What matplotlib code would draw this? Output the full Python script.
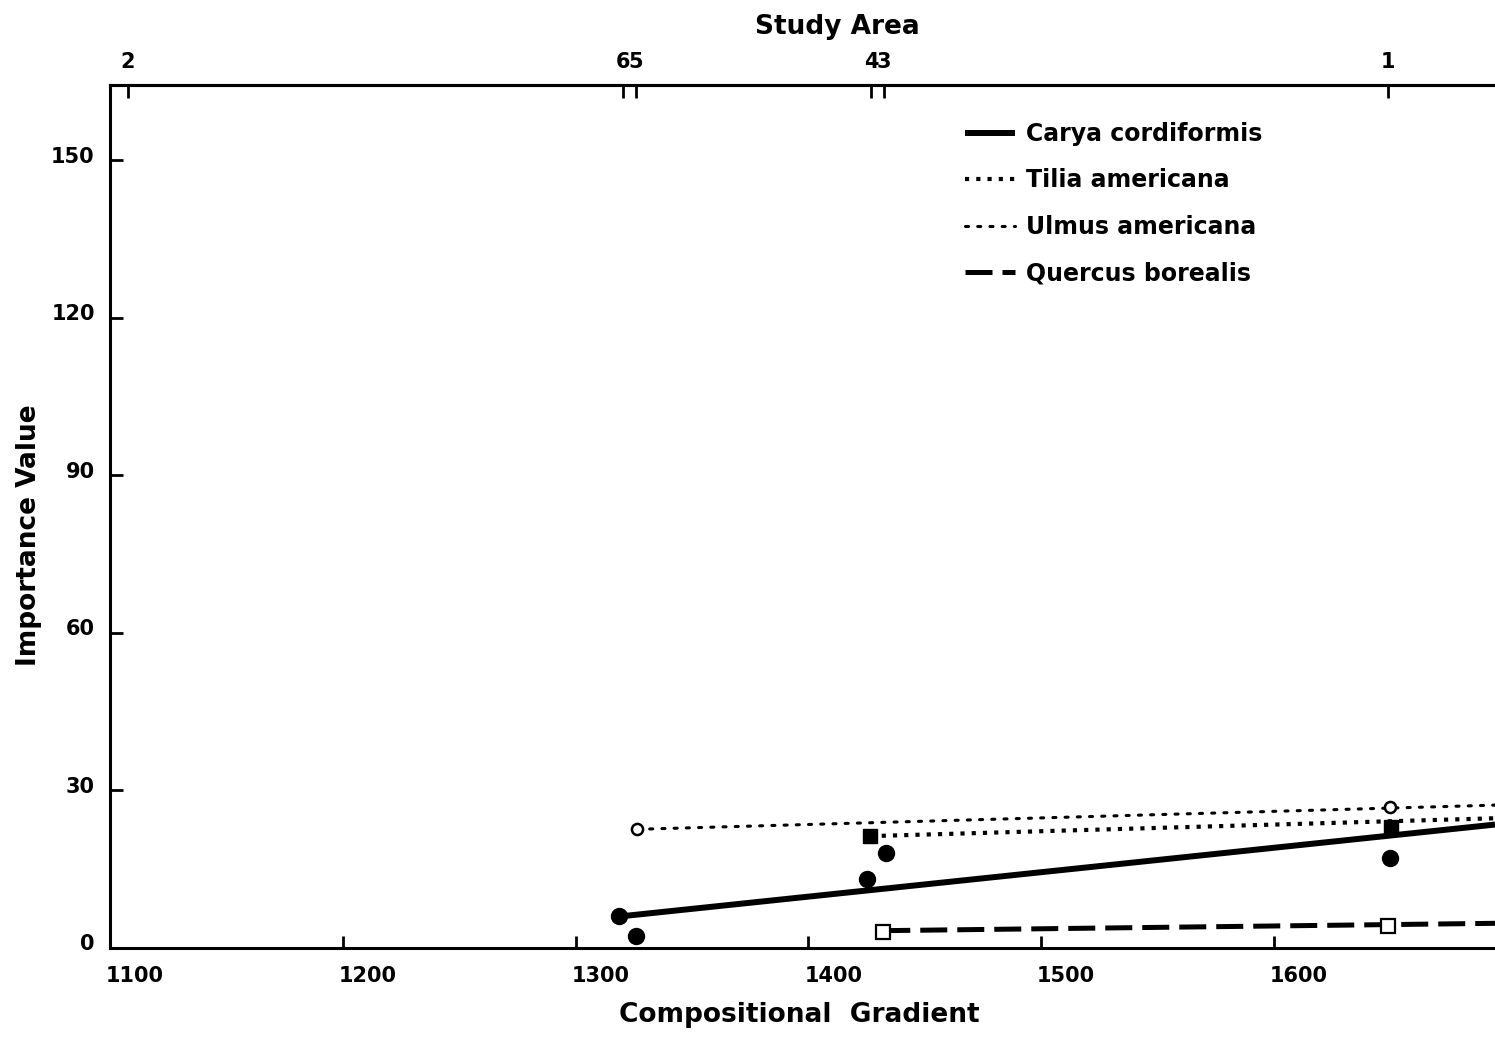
import numpy as np
import matplotlib
matplotlib.use("Agg")
import matplotlib.pyplot as plt
import matplotlib.transforms as mtrans

# study areas along the gradient (top axis)
area_x = [1107.7, 1320.5, 1326.0, 1427.0, 1432.5, 1649.0]
area_lab = ["2", "6", "5", "4", "3", "1"]

# observed importance values
carya_x = [1318.8, 1326.0, 1425.4, 1433.2, 1649.9]
carya_y = [6.0, 2.3, 13.1, 18.0, 17.1]
tilia_x = [1426.7, 1650.3]
tilia_y = [21.3, 23.1]
ulmus_x = [1326.6, 1649.7]
ulmus_y = [22.6, 26.9]
quercus_x = [1432.2, 1649.0]
quercus_y = [3.1, 4.1]

# fitted lines (start, right edge of figure)
carya_fit_x = [1318.8, 1695.0]
carya_fit_y = [6.0, 23.5]
tilia_fit_x = [1426.7, 1695.0]
tilia_fit_y = [21.3, 24.7]
ulmus_fit_x = [1326.6, 1695.0]
ulmus_fit_y = [22.6, 27.2]
quercus_fit_x = [1432.2, 1695.0]
quercus_fit_y = [3.3, 4.7]

xticks = [1100, 1200, 1300, 1400, 1500, 1600]
yticks = [0, 30, 60, 90, 120, 150]

plt.rcParams.update({
	"font.family": "DejaVu Sans",
	"font.weight": "bold",
	"axes.labelweight": "bold"})

fig = plt.figure(figsize=(14.95, 10.39), dpi=100)
ax = fig.add_axes([110/1495, 91/1039, 1385/1495, 863/1039])
ax.set_xlim(1100, 1695)
ax.set_ylim(0, 164.3)

k = "black"
ax.plot(carya_fit_x, carya_fit_y, c=k, lw=4.3, solid_capstyle="butt", label="Carya cordiformis")
ax.plot(tilia_fit_x, tilia_fit_y, c=k, lw=3.0, ls=(0, (1, 1.7)), dash_capstyle="butt", label="Tilia americana")
ax.plot(ulmus_fit_x, ulmus_fit_y, c=k, lw=2.2, ls=(0, (1, 3)), dash_capstyle="round", label="Ulmus americana")
ax.plot(quercus_fit_x, quercus_fit_y, c=k, lw=3.6, ls=(0, (5.4, 2)), dash_capstyle="butt", label="Quercus borealis")

ax.plot(carya_x, carya_y, ls="none", marker="o", ms=11.5, c=k)
ax.plot(tilia_x, tilia_y, ls="none", marker="s", ms=10, c=k)
ax.plot(ulmus_x, ulmus_y, ls="none", marker="o", ms=8, mfc="white", mec=k, mew=1.8)
ax.plot(quercus_x, quercus_y, ls="none", marker="s", ms=10, mfc="white", mec=k, mew=1.6)

for s in ["left", "bottom", "top"]:
	ax.spines[s].set_linewidth(2.2)
ax.spines["right"].set_visible(False)

ax.set_xticks(xticks)
ax.set_yticks(yticks)
ax.tick_params(axis="both", direction="in", length=9, width=2, labelsize=15)
ax.tick_params(axis="x", pad=13)
ax.tick_params(axis="y", pad=11)
# labels in the original sit right of the x ticks and a bit above the y ticks
off = mtrans.ScaledTranslation(18/72, 0, fig.dpi_scale_trans)
for t in ax.xaxis.get_major_ticks():
	t.label1.set_transform(t.label1.get_transform() + off)
offy = mtrans.ScaledTranslation(0, 4/72, fig.dpi_scale_trans)
for t in ax.yaxis.get_major_ticks():
	t.label1.set_transform(t.label1.get_transform() + offy)

sec = ax.secondary_xaxis("top")
sec.set_xticks(area_x, area_lab)
sec.tick_params(direction="in", length=9, width=2, labelsize=15, pad=9)
sec.spines["top"].set_linewidth(2.2)

ax.set_xlabel("Compositional  Gradient", fontsize=19)
ax.xaxis.set_label_coords(0.498, -0.063)
ax.set_ylabel("Importance Value", fontsize=19)
ax.yaxis.set_label_coords(-0.049, 0.4786)
sec.set_xlabel("Study Area", fontsize=19, labelpad=13)
sec.xaxis.label.set_x(0.525)

ax.legend(loc="upper left", bbox_to_anchor=(855/1385, (948-122)/863), frameon=False,
	fontsize=17, handlelength=2.1, handletextpad=0.5, labelspacing=0.95,
	borderpad=0, borderaxespad=0)

fig.savefig("out.png", dpi=100)
